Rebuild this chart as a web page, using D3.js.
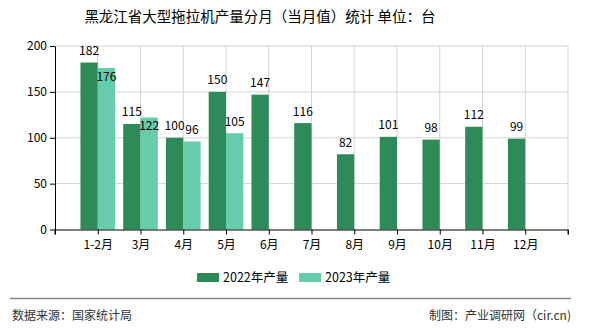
<!DOCTYPE html>
<html><head><meta charset="utf-8">
<script src="https://cdn.jsdelivr.net/npm/d3@7/dist/d3.min.js"></script>
<style>body{margin:0;background:#fff}svg{display:block}text{font-family:"Noto Sans CJK SC","DejaVu Sans",sans-serif}</style>
</head><body><svg id="c" width="590" height="330"></svg>
<script>
const categories = ["1-2月","3月","4月","5月","6月","7月","8月","9月","10月","11月","12月"];
const values2022 = [182,115,100,150,147,116,82,101,98,112,99];
const values2023 = [176,122,96,105,null,null,null,null,null,null,null];
const seriesNames = ["2022年产量","2023年产量"];
const colors = ["#2e8b57","#66cdaa"];
const yTicks = [0,50,100,150,200];

const svg = d3.select("#c");
const L=55,R=568,T=46,B=229.5;
const x = d3.scalePoint().domain(categories).range([L,R]).padding(1);
const y = d3.scaleLinear().domain([0,200]).range([B,T]);
const bw = 17.3;

svg.append("text").attr("x",260).attr("y",22).attr("text-anchor","middle")
  .attr("font-size",14.5).attr("fill","#000").text("黑龙江省大型拖拉机产量分月（当月值）统计  单位：台");

// gridlines
const g = svg.append("g");
g.selectAll(".hg").data(yTicks.filter(d=>d>0)).join("line")
  .attr("x1",L).attr("x2",R).attr("y1",d=>y(d)).attr("y2",d=>y(d)).attr("stroke","#d3d3d3");
g.selectAll(".vg").data(categories).join("line")
  .attr("x1",d=>x(d)).attr("x2",d=>x(d)).attr("y1",T).attr("y2",B).attr("stroke","#d3d3d3");
g.append("line").attr("x1",R).attr("x2",R).attr("y1",T).attr("y2",B).attr("stroke","#d3d3d3");

// bars
const series = [values2022, values2023];
series.forEach((vals,si)=>{
  svg.append("g").selectAll("rect").data(categories.map((c,i)=>({c,v:vals[i]})).filter(d=>d.v!=null))
    .join("rect")
    .attr("x",d=>x(d.c)+(si===0?-bw:0)).attr("width",bw)
    .attr("y",d=>y(d.v)).attr("height",d=>B-y(d.v)).attr("fill",colors[si]);
});

// labels (2023 label moves inside the bar top when it would collide with the 2022 label)
const lab = svg.append("g").attr("font-size",12).attr("fill","#000").attr("text-anchor","middle");
const tw = v => String(v).length*6.5;
categories.forEach((c,i)=>{
  const v1=values2022[i], v2=values2023[i];
  const x1 = x(c)-bw/2, y1 = y(v1)-7.5;
  lab.append("text").attr("x",x1).attr("y",y1).text(v1);
  if(v2!=null){
    const x2 = x(c)+bw/2;
    let y2 = y(v2)-7.5;
    const hOverlap = Math.abs(x2-x1) < (tw(v1)+tw(v2))/2;
    if(hOverlap && Math.abs(y2-y1)<13) y2 = y(v2)+12.5;
    lab.append("text").attr("x",x2).attr("y",y2).text(v2);
  }
});

// axes
const ya = svg.append("g").attr("transform",`translate(${L},0)`)
  .call(d3.axisLeft(y).tickValues(yTicks).tickSize(5).tickSizeOuter(0));
ya.select(".domain").attr("stroke","#000");
ya.selectAll("text").attr("font-size",12).attr("fill","#000").attr("font-family","DejaVu Sans, sans-serif");
const xa = svg.append("g").attr("transform",`translate(0,${B})`)
  .call(d3.axisBottom(x).tickSize(5).tickSizeOuter(5));
xa.select(".domain").attr("stroke","#000");
xa.selectAll("text").attr("font-size",12).attr("fill","#000").attr("dy","0.95em");
[L,R].forEach(px=>xa.append("line").attr("x1",px).attr("x2",px).attr("y1",0).attr("y2",5).attr("stroke","#000"));

// legend
const lg = svg.append("g");
const lx=[197,299];
seriesNames.forEach((n,i)=>{
  lg.append("rect").attr("x",lx[i]).attr("y",273).attr("width",22).attr("height",9).attr("fill",colors[i]);
  lg.append("text").attr("x",lx[i]+26).attr("y",282).attr("font-size",12.5).attr("fill","#000").text(n);
});

// footer
svg.append("line").attr("x1",10).attr("x2",571).attr("y1",298.5).attr("y2",298.5).attr("stroke","#888").attr("stroke-width",1.5);
svg.append("text").attr("x",12).attr("y",320).attr("font-size",12).attr("fill","#333").text("数据来源：国家统计局");
svg.append("text").attr("x",571).attr("y",320).attr("font-size",12).attr("fill","#333").attr("text-anchor","end").text("制图：产业调研网（cir.cn)");
</script></body></html>
